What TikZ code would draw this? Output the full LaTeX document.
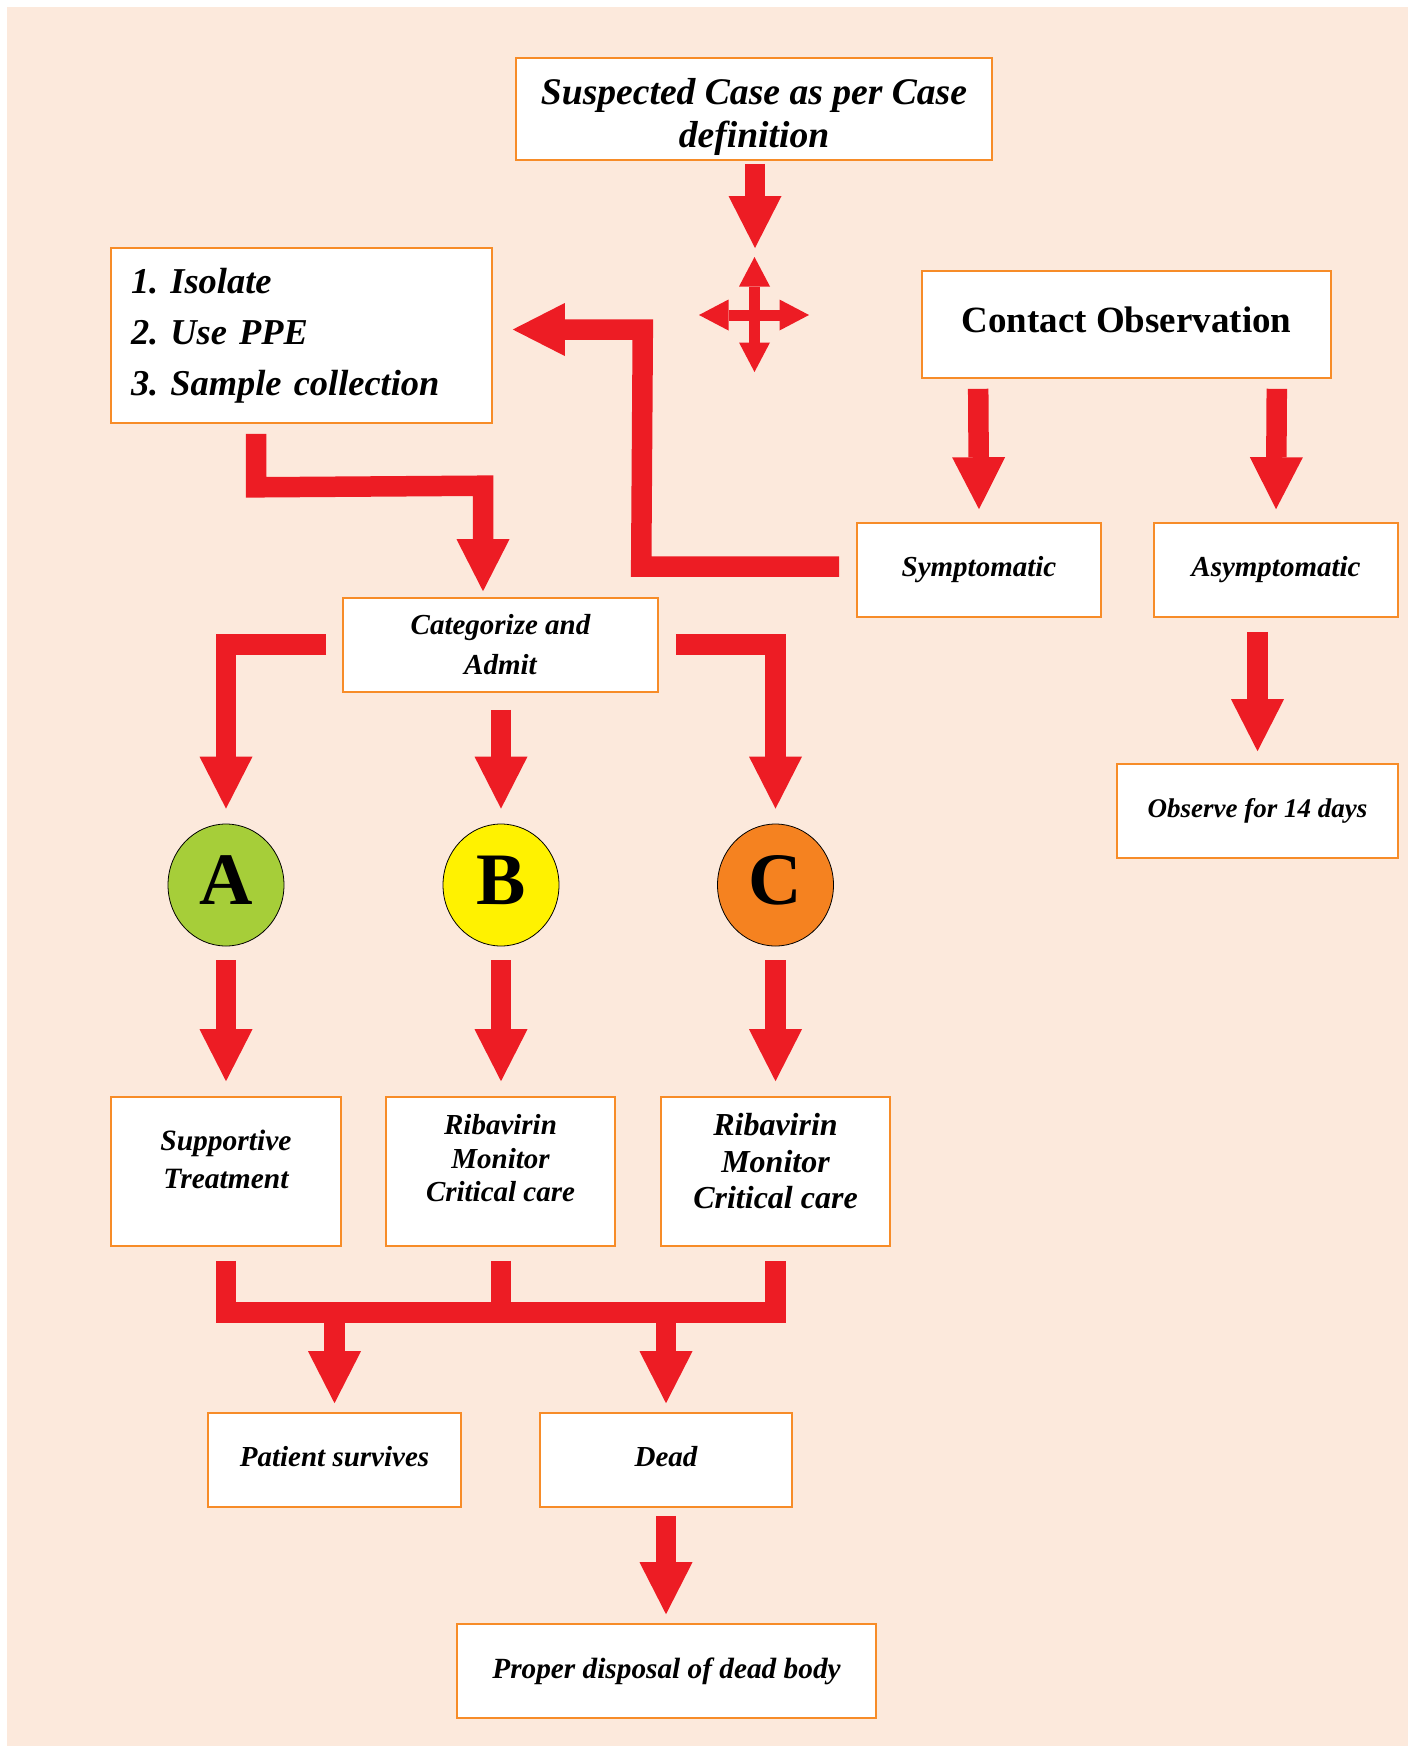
\documentclass[tikz,border=0pt]{standalone}
\usepackage{fontspec}
\setmainfont{Liberation Serif}
\usetikzlibrary{arrows.meta,calc,shapes.geometric}
\definecolor{bg}{RGB}{252,233,220}
\definecolor{ared}{RGB}{237,28,36}
\definecolor{bord}{RGB}{247,140,40}
\definecolor{cA}{RGB}{166,206,57}
\definecolor{cB}{RGB}{255,242,0}
\definecolor{cC}{RGB}{245,130,32}
\begin{document}
\frenchspacing
\begin{tikzpicture}[x=1pt,y=-1pt,
  box/.style={draw=bord, line width=1.6pt, fill=white, inner sep=0pt},
  fs/.style 2 args={font=\fontsize{#1}{#2}\selectfont\bfseries\itshape, align=center},
  blk/.style={draw=ared, line width=20.5pt, line join=miter, line cap=butt,
    -{Triangle[width=53pt,length=52pt,line width=0pt]}},
  bar/.style={draw=ared, line width=20.5pt, line join=miter, line cap=butt},
  crossarrow/.style={draw=ared, line width=11pt, line cap=butt,
    {Triangle[width=31pt,length=29.5pt,line width=0pt]}-{Triangle[width=31pt,length=29.5pt,line width=0pt]}},
  circ/.style={ellipse, draw=black, line width=0.8pt, minimum width=116pt, minimum height=122pt,
    inner sep=0pt, font=\fontsize{74}{74}\selectfont\bfseries, text height=39pt, text depth=0pt}
]
\fill[white] (0,0) rectangle (1414,1746);
\fill[bg] (7,7) rectangle (1408,1746);
\useasboundingbox (0,0) rectangle (1414,1746);

% boxes
\node[box, minimum width=476pt, minimum height=102pt,
  label={[fs={37.6}{43}, yshift=-7.5pt]center:Suspected Case as per Case\\definition}] (susp) at (754,109) {};
\node[box, fs={36.4}{51}, align=left, text width=341pt, minimum width=381pt, minimum height=175pt] (iso) at (301.5,335.5)
  {1. Isolate\\2. Use PPE\\3. Sample collection};
\node[box, minimum width=409pt, minimum height=107pt,
  label={[font=\fontsize{37}{44}\selectfont\bfseries, yshift=5pt]center:Contact Observation}] (contact) at (1126.5,324.5) {};
\node[box, fs={29}{35}, minimum width=244pt, minimum height=94pt] (symp) at (979,570) {Symptomatic};
\node[box, fs={29}{35}, minimum width=244pt, minimum height=94pt] (asymp) at (1276,570) {Asymptomatic};
\node[box, fs={27}{33}, minimum width=281pt, minimum height=94pt] (obs) at (1257.5,811) {Observe for 14 days};
\node[box, fs={29}{40}, minimum width=315pt, minimum height=94pt] (cat) at (500.5,645) {Categorize and\\Admit};

\node[circ, fill=cA] (A) at (226,885) {A};
\node[circ, fill=cB] (B) at (501,885) {B};
\node[circ, fill=cC] (C) at (775.5,885) {C};

\node[box, minimum width=230pt, minimum height=149pt,
  label={[fs={29.5}{38}, yshift=12.5pt]center:Supportive\\Treatment}] (supp) at (226,1171.5) {};
\node[box, minimum width=229pt, minimum height=149pt,
  label={[fs={29}{33.5}, yshift=13pt]center:Ribavirin\\Monitor\\Critical care}] (rib1) at (500.5,1171.5) {};
\node[box, minimum width=229pt, minimum height=149pt,
  label={[fs={32}{36.5}, yshift=10pt]center:Ribavirin\\Monitor\\Critical care}] (rib2) at (775.5,1171.5) {};

\node[box, fs={29}{35}, text height=16pt, text depth=4pt, minimum width=253pt, minimum height=94pt] (surv) at (334.5,1460) {Patient survives};
\node[box, fs={29}{35}, text height=16pt, text depth=4pt, minimum width=252pt, minimum height=94pt] (dead) at (666,1460) {Dead};
\node[box, fs={29.3}{35}, minimum width=419pt, minimum height=94pt] (proper) at (666.5,1671) {Proper disposal of dead body};

% four-way symbol
\coordinate (cross) at (754.5,315);
\draw[crossarrow] ($(cross)+(0,-58)$) -- ($(cross)+(0,57)$);
\draw[crossarrow] ($(cross)+(-55.5,0)$) -- ($(cross)+(54.5,0)$);

% connectors
\draw[blk] ($(susp.south)+(1,3)$) -- ($(cross)+(0.5,-67)$);
\draw[blk] ($(iso.south west)+(146,10)$) -- ($(iso.south west)+(146,63.5)$)
  -- ($(cat.north)+(-17.5,-111.5)$) -- ($(cat.north)+(-17.5,-6)$);
\draw[blk] ($(symp.west)+(-17,-3.5)$) -- ($(symp.west)+(-215,-3.5)$)
  -- ($(iso.east)+(150,-6)$) -- ($(iso.east)+(20,-6)$);
\draw[blk] ($(contact.south west)+(57,10)$) -- ($(symp.north)+(0,-13)$);
\draw[blk] ($(contact.south east)+(-55,10)$) -- ($(asymp.north)+(0,-13)$);
\draw[blk] ($(obs.north |- asymp.south)+(0,14)$) -- ($(obs.north)+(0,-12)$);

\draw[blk] ($(cat.west)+(-16,-0.5)$) -| ($(A.north)+(0,-15)$);
\draw[blk] ($(cat.south)+(0.5,17)$) -- ($(B.north)+(0,-15)$);
\draw[blk] ($(cat.east)+(17,-0.5)$) -| ($(C.north)+(0,-15)$);

\draw[blk] ($(A.south)+(0,14)$) -- ($(supp.north)+(0,-15)$);
\draw[blk] ($(B.south)+(0,14)$) -- ($(rib1.north)+(0.5,-15)$);
\draw[blk] ($(C.south)+(0,14)$) -- ($(rib2.north)+(0,-15)$);

\draw[bar] ($(supp.south)+(0,14)$) |- ($(rib2.south)+(0,65.5)$) -- ($(rib2.south)+(0,14)$);
\draw[bar] ($(rib1.south)+(0.5,14)$) -- ($(rib1.south)+(0.5,60)$);
\draw[blk] ($(surv.north |- rib1.south)+(0,60)$) -- ($(surv.north)+(0,-9)$);
\draw[blk] ($(dead.north |- rib1.south)+(0,60)$) -- ($(dead.north)+(0,-9)$);
\draw[blk] ($(dead.south)+(0,8)$) -- ($(dead.south |- proper.north)+(0,-9)$);
\end{tikzpicture}
\end{document}
